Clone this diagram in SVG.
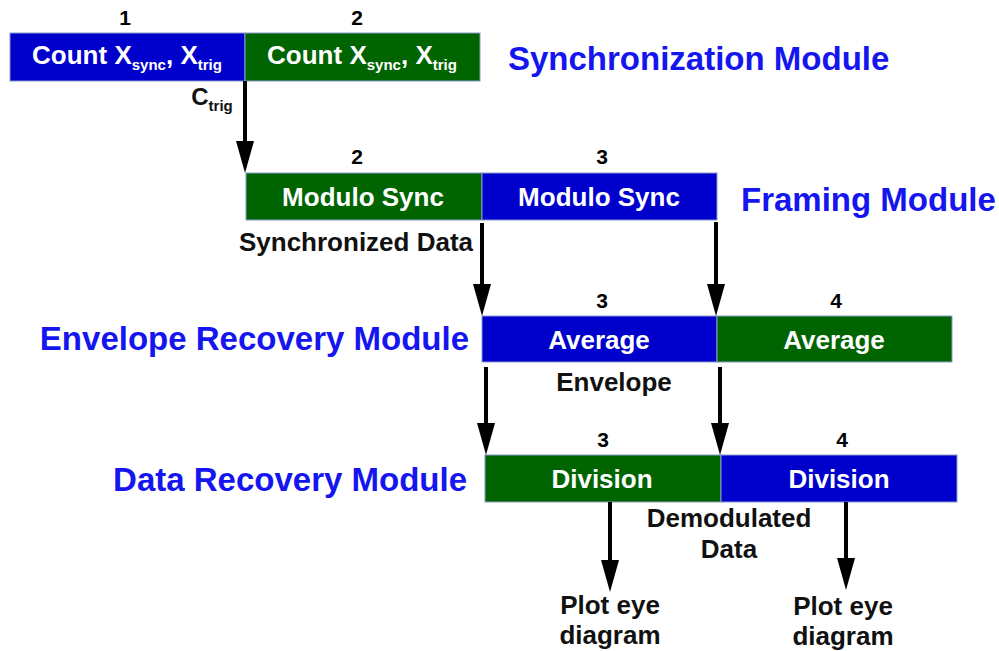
<svg xmlns="http://www.w3.org/2000/svg" width="999" height="651" viewBox="0 0 999 651">
<style>
text{font-family:"Liberation Sans",Arial,sans-serif;font-weight:bold}
.b{fill:#0000cc;stroke:#8899cc;stroke-width:1}
.g{fill:#006400;stroke:#8899cc;stroke-width:1}
.bt{fill:#fff;font-size:26px;text-anchor:middle}
.num{fill:#000;font-size:21px;text-anchor:middle}
.ttl{fill:#1515f0;font-size:33px}
.lbl{fill:#111;font-size:26px;text-anchor:middle}
.sub{font-size:15px}
.c{stroke:#000;stroke-width:4;fill:none}
</style>
<defs>
<marker id="ah" markerUnits="userSpaceOnUse" markerWidth="32" markerHeight="18" refX="10" refY="9" orient="auto" viewBox="0 0 32 18">
<path d="M0,0 L32,9 L0,18 Z" fill="#000"/>
</marker>
</defs>
<g id="row1">
<g id="n1"><rect class="b" x="10" y="33" width="235" height="48"/>
<text class="bt" x="127" y="64">Count X<tspan class="sub" dy="6">sync</tspan><tspan dy="-6">, X</tspan><tspan class="sub" dy="6">trig</tspan></text>
<text class="num" x="125" y="25">1</text></g>
<g id="n2"><rect class="g" x="245" y="33" width="235" height="48"/>
<text class="bt" x="362" y="64">Count X<tspan class="sub" dy="6">sync</tspan><tspan dy="-6">, X</tspan><tspan class="sub" dy="6">trig</tspan></text>
<text class="num" x="357" y="25">2</text></g>
<text class="ttl" x="508" y="70">Synchronization Module</text>
</g>
<g id="row2">
<g id="n3"><rect class="g" x="246" y="173" width="236" height="47"/>
<text class="bt" x="363" y="206">Modulo Sync</text>
<text class="num" x="357" y="164">2</text></g>
<g id="n4"><rect class="b" x="482" y="173" width="235" height="47"/>
<text class="bt" x="599" y="206">Modulo Sync</text>
<text class="num" x="602" y="164">3</text></g>
<text class="ttl" x="741" y="211">Framing Module</text>
</g>
<g id="row3">
<g id="n5"><rect class="b" x="482" y="316" width="235" height="46"/>
<text class="bt" x="599" y="349">Average</text>
<text class="num" x="602" y="308">3</text></g>
<g id="n6"><rect class="g" x="717" y="316" width="235" height="46"/>
<text class="bt" x="834" y="349">Average</text>
<text class="num" x="836" y="308">4</text></g>
<text class="ttl" x="469" y="350" text-anchor="end">Envelope Recovery Module</text>
</g>
<g id="row4">
<g id="n7"><rect class="g" x="485" y="455" width="236" height="47"/>
<text class="bt" x="602" y="488">Division</text>
<text class="num" x="603" y="447">3</text></g>
<g id="n8"><rect class="b" x="721" y="455" width="236" height="47"/>
<text class="bt" x="839" y="488">Division</text>
<text class="num" x="842" y="447">4</text></g>
<text class="ttl" x="467" y="491" text-anchor="end">Data Recovery Module</text>
</g>
<g id="connectors">
<line class="c" x1="245" y1="81" x2="245" y2="151" marker-end="url(#ah)"/>
<line class="c" x1="482" y1="223" x2="482" y2="294" marker-end="url(#ah)"/>
<line class="c" x1="716" y1="222" x2="716" y2="294" marker-end="url(#ah)"/>
<line class="c" x1="486" y1="367" x2="486" y2="433" marker-end="url(#ah)"/>
<line class="c" x1="720" y1="367" x2="720" y2="433" marker-end="url(#ah)"/>
<line class="c" x1="610" y1="502" x2="610" y2="570" marker-end="url(#ah)"/>
<line class="c" x1="846" y1="502" x2="846" y2="568" marker-end="url(#ah)"/>
</g>
<g id="labels">
<text class="lbl" x="212" y="105" style="font-size:24px">C<tspan class="sub" dy="6">trig</tspan></text>
<text class="lbl" x="356" y="251">Synchronized Data</text>
<text class="lbl" x="614" y="391">Envelope</text>
<text class="lbl" x="729" y="527">Demodulated</text>
<text class="lbl" x="729" y="558">Data</text>
<text class="lbl" x="610" y="614">Plot eye</text>
<text class="lbl" x="610" y="644">diagram</text>
<text class="lbl" x="843" y="615">Plot eye</text>
<text class="lbl" x="843" y="645">diagram</text>
</g>
</svg>
